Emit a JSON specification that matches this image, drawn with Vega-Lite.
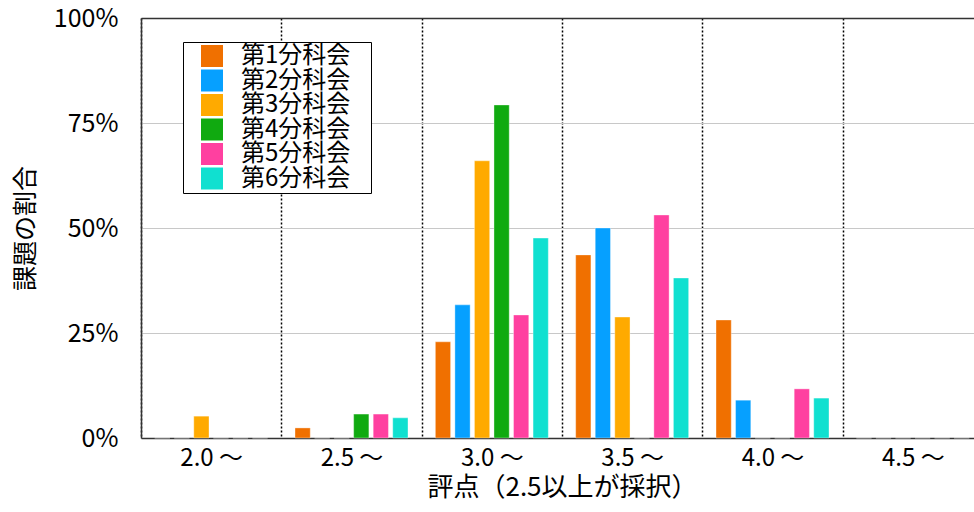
{
  "$schema": "https://vega.github.io/schema/vega-lite/v6.json",
  "width": 833,
  "height": 420,
  "autosize": {"type": "none"},
  "padding": {"left": 141, "top": 18, "right": 0, "bottom": 74},
  "config": {
    "font": "Noto Sans CJK JP",
    "view": {"stroke": null},
    "axis": {"labelFont": "Noto Sans CJK JP", "titleFont": "Noto Sans CJK JP"}
  },
  "data": {
    "values": [
      {"score": "2.0 〜", "group": "第1分科会", "ratio": 0},
      {"score": "2.0 〜", "group": "第2分科会", "ratio": 0},
      {"score": "2.0 〜", "group": "第3分科会", "ratio": 0.052},
      {"score": "2.0 〜", "group": "第4分科会", "ratio": 0},
      {"score": "2.0 〜", "group": "第5分科会", "ratio": 0},
      {"score": "2.0 〜", "group": "第6分科会", "ratio": 0},
      {"score": "2.5 〜", "group": "第1分科会", "ratio": 0.024},
      {"score": "2.5 〜", "group": "第2分科会", "ratio": 0},
      {"score": "2.5 〜", "group": "第3分科会", "ratio": 0},
      {"score": "2.5 〜", "group": "第4分科会", "ratio": 0.057},
      {"score": "2.5 〜", "group": "第5分科会", "ratio": 0.057},
      {"score": "2.5 〜", "group": "第6分科会", "ratio": 0.048},
      {"score": "3.0 〜", "group": "第1分科会", "ratio": 0.229},
      {"score": "3.0 〜", "group": "第2分科会", "ratio": 0.317},
      {"score": "3.0 〜", "group": "第3分科会", "ratio": 0.66},
      {"score": "3.0 〜", "group": "第4分科会", "ratio": 0.793},
      {"score": "3.0 〜", "group": "第5分科会", "ratio": 0.293},
      {"score": "3.0 〜", "group": "第6分科会", "ratio": 0.476},
      {"score": "3.5 〜", "group": "第1分科会", "ratio": 0.436},
      {"score": "3.5 〜", "group": "第2分科会", "ratio": 0.5},
      {"score": "3.5 〜", "group": "第3分科会", "ratio": 0.288},
      {"score": "3.5 〜", "group": "第4分科会", "ratio": 0},
      {"score": "3.5 〜", "group": "第5分科会", "ratio": 0.531},
      {"score": "3.5 〜", "group": "第6分科会", "ratio": 0.381},
      {"score": "4.0 〜", "group": "第1分科会", "ratio": 0.281},
      {"score": "4.0 〜", "group": "第2分科会", "ratio": 0.09},
      {"score": "4.0 〜", "group": "第3分科会", "ratio": 0},
      {"score": "4.0 〜", "group": "第4分科会", "ratio": 0},
      {"score": "4.0 〜", "group": "第5分科会", "ratio": 0.117},
      {"score": "4.0 〜", "group": "第6分科会", "ratio": 0.095},
      {"score": "4.5 〜", "group": "第1分科会", "ratio": 0},
      {"score": "4.5 〜", "group": "第2分科会", "ratio": 0},
      {"score": "4.5 〜", "group": "第3分科会", "ratio": 0},
      {"score": "4.5 〜", "group": "第4分科会", "ratio": 0},
      {"score": "4.5 〜", "group": "第5分科会", "ratio": 0},
      {"score": "4.5 〜", "group": "第6分科会", "ratio": 0}
    ]
  },
  "mark": {"type": "bar", "stroke": "white", "strokeOpacity": 0.6, "strokeWidth": 0.6},
  "encoding": {
    "x": {
      "field": "score",
      "type": "nominal",
      "sort": null,
      "scale": {"paddingInner": 0, "paddingOuter": 0, "range": [0, 842]},
      "axis": {
        "title": "評点（2.5以上が採択）",
        "titleFontSize": 26,
        "titleFontWeight": "normal",
        "titleColor": "#000",
        "titlePadding": 4,
        "labelFontSize": 24,
        "labelColor": "#000",
        "labelPadding": 8,
        "labelAngle": 0,
        "ticks": false,
        "domainColor": "#333",
        "domainWidth": 1.5,
        "grid": true,
        "tickBand": "extent",
        "gridColor": "#000",
        "gridDash": [2, 2],
        "gridWidth": 1.5
      }
    },
    "xOffset": {
      "field": "group",
      "type": "nominal",
      "scale": {"paddingInner": 0.22, "paddingOuter": 0.7}
    },
    "y": {
      "field": "ratio",
      "type": "quantitative",
      "scale": {"domain": [0, 1]},
      "axis": {
        "title": "課題の割合",
        "titleFontSize": 25,
        "titleFontWeight": "normal",
        "titleColor": "#000",
        "titlePadding": 15,
        "values": [0, 0.25, 0.5, 0.75, 1],
        "format": ".0%",
        "labelFontSize": 25,
        "labelColor": "#000",
        "labelPadding": 23,
        "ticks": false,
        "domainColor": "#333",
        "domainWidth": 1.5,
        "grid": true,
        "gridColor": {"condition": {"test": "datum.value === 1", "value": "#333"}, "value": "#c8c8c8"},
        "gridWidth": {"condition": {"test": "datum.value === 1", "value": 1.5}, "value": 1}
      }
    },
    "color": {
      "field": "group",
      "type": "nominal",
      "scale": {
        "domain": ["第1分科会", "第2分科会", "第3分科会", "第4分科会", "第5分科会", "第6分科会"],
        "range": ["#F07000", "#06A0FF", "#FFAA00", "#10AA10", "#FF40A0", "#10E0D0"]
      },
      "legend": {
        "title": null,
        "orient": "none",
        "legendX": 42,
        "legendY": 24,
        "strokeColor": "#000",
        "fillColor": "white",
        "padding": 2,
        "symbolType": "square",
        "symbolSize": 484,
        "symbolStrokeWidth": 0,
        "symbolOffset": 15,
        "labelOffset": 17,
        "labelFontSize": 24,
        "labelColor": "#000",
        "rowPadding": 0.5,
        "labelExpr": "datum.label + '\u2800'"
      }
    }
  }
}
